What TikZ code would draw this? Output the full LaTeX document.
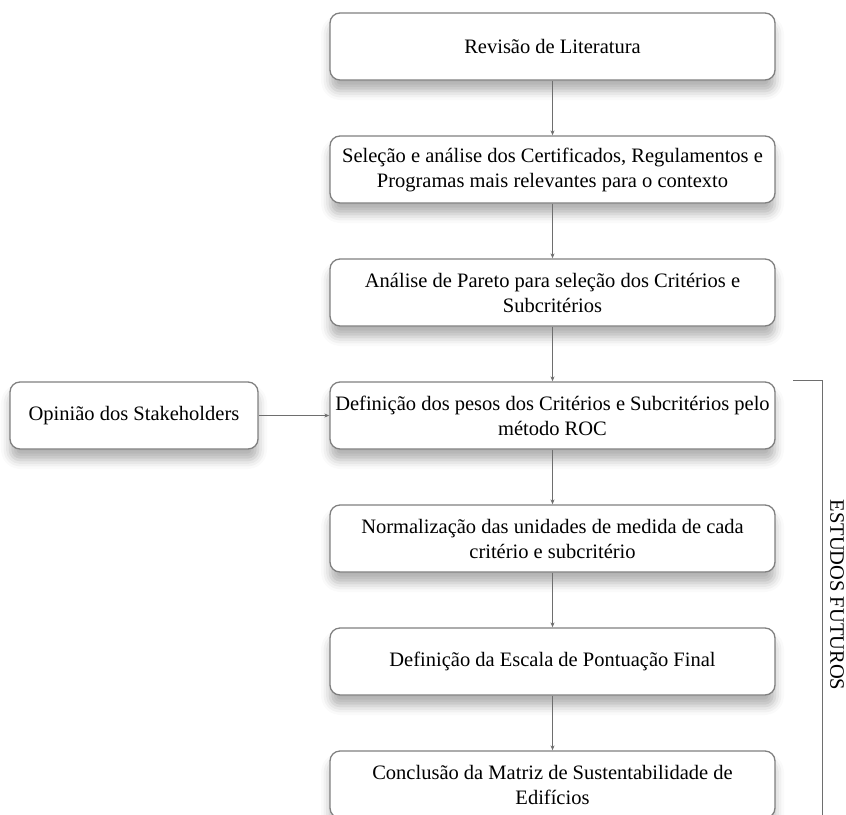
\documentclass[tikz,border=0pt]{standalone}
\usepackage{fontspec}
\setmainfont{Liberation Serif}
\usetikzlibrary{arrows.meta,shadows,shadows.blur}
\definecolor{boxline}{RGB}{128,128,128}
\definecolor{arrowc}{RGB}{110,110,110}
\begin{document}
\begin{tikzpicture}[x=1pt,y=-1pt,
  stepbox/.style={draw=boxline, line width=1.3pt, rounded corners=10pt, fill=white,
    minimum width=445pt, minimum height=67pt, align=center, inner sep=0pt,
    font=\fontsize{20.5}{25}\selectfont,
    blur shadow={shadow xshift=0pt, shadow yshift=-11pt,
      shadow blur radius=9pt, shadow opacity=30}},
  sidebox/.style={stepbox, minimum width=248pt},
  conn/.style={draw=arrowc, line width=0.9pt, -{Stealth[length=5pt,width=4pt]}}]
\useasboundingbox (0,0) rectangle (846,814);
\node[stepbox] (b1) at (552.5,46.5) {Revisão de Literatura};
\node[stepbox] (b2) at (552.5,169.5) {Seleção e análise dos Certificados, Regulamentos e\\Programas mais relevantes para o contexto};
\node[stepbox] (b3) at (552.5,292.5) {Análise de Pareto para seleção dos Critérios e\\Subcritérios};
\node[stepbox] (b4) at (552.5,415.5) {Definição dos pesos dos Critérios e Subcritérios pelo\\método ROC};
\node[stepbox] (b5) at (552.5,538.5) {Normalização das unidades de medida de cada\\critério e subcritério};
\node[stepbox] (b6) at (552.5,661.5) {Definição da Escala de Pontuação Final};
\node[stepbox] (b7) at (552.5,784.5) {Conclusão da Matriz de Sustentabilidade de\\Edifícios};
\node[sidebox] (op) at (134,415.5) {Opinião dos Stakeholders};
\draw[conn] (b1) -- (b2);
\draw[conn] (b2) -- (b3);
\draw[conn] (b3) -- (b4);
\draw[conn] (b4) -- (b5);
\draw[conn] (b5) -- (b6);
\draw[conn] (b6) -- (b7);
\draw[conn] (op) -- (b4);
\coordinate (brA) at (793,380);
\coordinate (brB) at (822,380);
\coordinate (brC) at (822,830);
\draw[draw=arrowc, line width=1pt] (brA) -- (brB) -- (brC);
\node[rotate=-90, font=\fontsize{20.5}{25}\selectfont, inner sep=0pt] (ef) at (837,595) {ESTUDOS FUTUROS};
\end{tikzpicture}
\end{document}
